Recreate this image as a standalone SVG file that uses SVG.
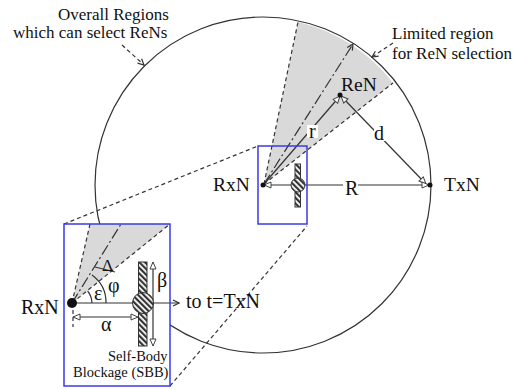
<svg xmlns="http://www.w3.org/2000/svg" width="525" height="390" viewBox="0 0 525 390">
<style>
text{font-family:"Liberation Serif","Times New Roman",serif;fill:#111}
.t17{font-size:17px}.t20{font-size:20px}.t19{font-size:19.5px}.t14{font-size:14.5px}
.ln{fill:none;stroke:#333;stroke-width:1.2}
.dash{fill:none;stroke:#333;stroke-width:1.2;stroke-dasharray:4 3}
.dd{fill:none;stroke:#333;stroke-width:1.2;stroke-dasharray:11 3 2 3}
.box{fill:none;stroke:#3a3ae8;stroke-width:1.5}
.sh{fill:#d9d9d9}
.hat{fill:url(#h);stroke:#333;stroke-width:1}
</style>
<defs>
<pattern id="h" width="4" height="4" patternUnits="userSpaceOnUse" patternTransform="rotate(-45)"><rect width="4" height="4" fill="#fff"/><rect width="2.2" height="4" fill="#333"/></pattern>
<marker id="oa" markerWidth="9" markerHeight="8" refX="8" refY="4" orient="auto-start-reverse" markerUnits="userSpaceOnUse"><path d="M1 1L8 4L1 7Z" fill="#fff" stroke="#444"/></marker>
<marker id="sa" markerWidth="8" markerHeight="8" refX="7" refY="4" orient="auto" markerUnits="userSpaceOnUse"><path d="M1 1L7 4L1 7" fill="none" stroke="#333" stroke-width="1.2"/></marker>
</defs>
<g id="overall-region">
<path class="sh" d="M264 184L298 22A168 168 0 0 1 393 83Z"/>
<circle class="ln" cx="263" cy="185" r="168"/>
</g>
<g id="connectors">
<path class="dash" d="M264 184L298 22M264 184L393 83"/>
<path class="dd" d="M264 184L353 44" marker-end="url(#sa)"/>
<path class="ln" d="M264 184L340 96" marker-end="url(#oa)"/>
<path class="ln" d="M341 96L426 184" marker-start="url(#oa)" marker-end="url(#oa)"/>
<path class="ln" d="M264 185L429 185" marker-start="url(#oa)" marker-end="url(#oa)"/>
<path class="dash" d="M64 224L258 146M170 386L307 226"/>
<path class="dash" d="M122 45L144 65" marker-end="url(#sa)"/>
<path class="dash" d="M393 43L372 57" marker-end="url(#sa)"/>
</g>
<g id="rxn-small">
<circle cx="263" cy="185" r="2.500" fill="#111"/>
<text class="t19" x="213" y="191">RxN</text>
</g>
<g id="ren">
<circle cx="340" cy="95" r="2.500" fill="#111"/>
<text class="t19" x="341" y="91">ReN</text>
</g>
<g id="txn">
<circle cx="430" cy="185" r="2.500" fill="#111"/>
<text class="t19" x="444" y="191">TxN</text>
</g>
<g id="labels">
<rect x="307" y="125" width="11" height="13" fill="#fff"/>
<text class="t20" x="309" y="138">r</text>
<rect x="374" y="127" width="12" height="14" fill="#fff"/>
<text class="t20" x="374" y="140">d</text>
<rect x="343" y="180" width="15" height="14" fill="#fff"/>
<text class="t20" x="345" y="195">R</text>
<text class="t17" x="58" y="20">Overall Regions</text>
<text class="t17" x="13" y="38">which can select ReNs</text>
<text class="t17" x="392" y="39">Limited region</text>
<text class="t17" x="392" y="59">for ReN selection</text>
</g>
<g id="sbb-small">
<rect class="hat" x="295" y="164" width="5.500" height="43"/>
<circle class="hat" cx="298" cy="185" r="7"/>
<rect class="box" x="258" y="146" width="49" height="78"/>
</g>
<g id="inset">
<rect x="64" y="224" width="106" height="162" fill="#fff"/>
<path class="sh" d="M72 303L90 224H170Z"/>
<path class="dash" d="M72 303L90 224M72 303L170 224"/>
<path class="dd" d="M72 303L121 224"/>
<path class="dash" d="M73 303V327"/>
<path class="ln" d="M72 303H179" marker-end="url(#sa)"/>
<path class="ln" d="M92 303A20 20 0 0 0 87.600 291"/>
<path class="ln" d="M106 303A34 34 0 0 0 92 275"/>
<path class="ln" d="M95 267L115 272"/>
<path class="ln" d="M73 317H138" marker-start="url(#oa)" marker-end="url(#oa)"/>
<path class="ln" d="M153 262V346" marker-start="url(#oa)" marker-end="url(#oa)"/>
<rect class="hat" x="138.500" y="262" width="8.500" height="84"/>
<circle class="hat" cx="143" cy="303" r="10.500"/>
<circle cx="72" cy="303" r="5" fill="#111"/>
<rect class="box" x="64" y="224" width="106" height="162"/>
<text class="t20" x="21" y="314">RxN</text>
<text class="t20" x="186" y="308">to t=TxN</text>
<text class="t20" x="101" y="331">α</text>
<text class="t20" x="157" y="287">β</text>
<text class="t20" x="108" y="292">φ</text>
<text class="t20" x="94" y="300">ε</text>
<text class="t17" x="102" y="271">Δ</text>
<text class="t14" x="108" y="361">Self-Body</text>
<text class="t14" x="73" y="377">Blockage (SBB)</text>
</g>
</svg>
